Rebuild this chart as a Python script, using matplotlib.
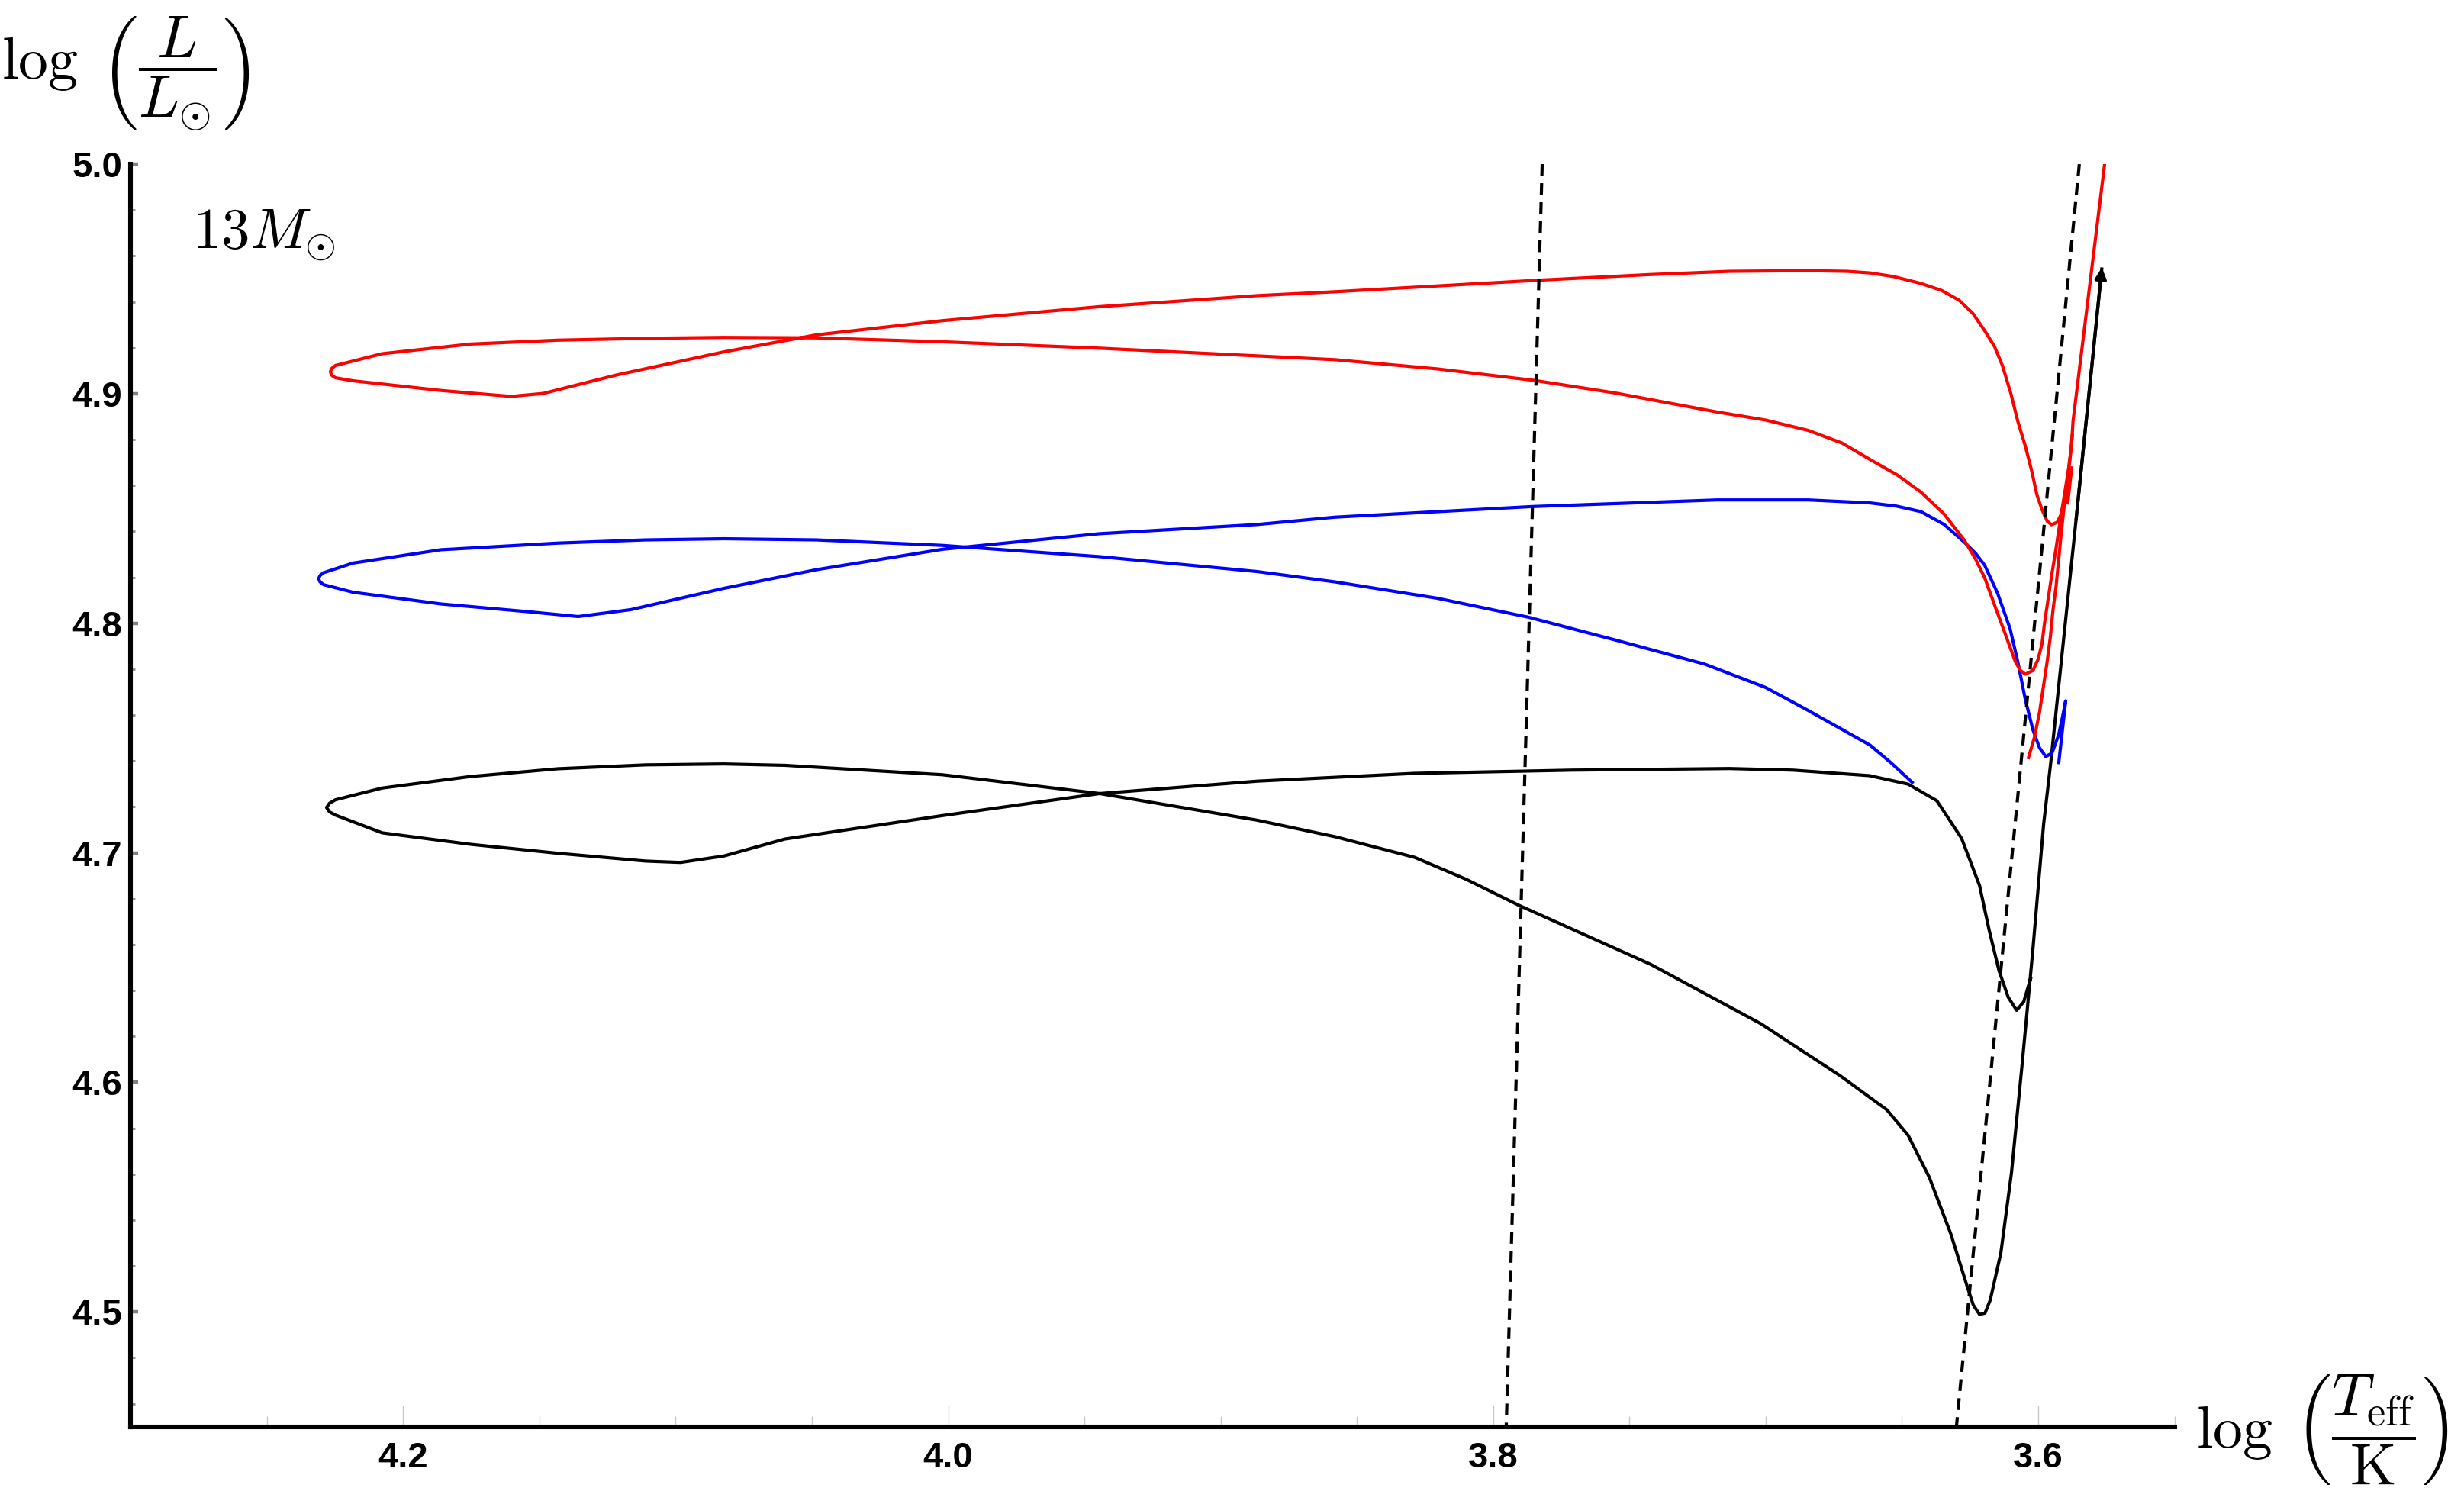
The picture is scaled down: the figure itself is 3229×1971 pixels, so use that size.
import matplotlib
matplotlib.use("Agg")
import matplotlib.pyplot as plt
from matplotlib.ticker import MultipleLocator, FormatStrFormatter

plt.rcParams["mathtext.fontset"] = "cm"

# black track (with arrow at the end)
black_x = [3.6026, 3.6053, 3.6079, 3.6110, 3.6144, 3.6180, 3.6215, 3.6281, 3.6372,
           3.6477, 3.6619, 3.6900, 3.7133, 3.7711, 3.8288, 3.8866, 3.9444, 4.0021,
           4.0599, 4.0823, 4.0982, 4.1111, 4.1433, 4.1754, 4.2077, 4.2248, 4.2270,
           4.2281, 4.2270, 4.2248, 4.2077, 4.1754, 4.1433, 4.1111, 4.0823, 4.0599,
           4.0021, 3.9444, 3.8866, 3.8580, 3.8288, 3.8100, 3.7907, 3.7422, 3.7017,
           3.6728, 3.6555, 3.6477, 3.6399, 3.6320, 3.6261, 3.6238, 3.6215, 3.6195,
           3.6176, 3.6137, 3.6098, 3.6059, 3.6020, 3.5980, 3.5954, 3.5861, 3.5766]
black_y = [4.6458, 4.6351, 4.6314, 4.6371, 4.6488, 4.6664, 4.6857, 4.7063, 4.7227,
           4.7299, 4.7336, 4.7360, 4.7367, 4.7360, 4.7346, 4.7312, 4.7258, 4.7162,
           4.7060, 4.6986, 4.6958, 4.6964, 4.6998, 4.7037, 4.7087, 4.7164, 4.7178,
           4.7197, 4.7216, 4.7231, 4.7282, 4.7332, 4.7366, 4.7383, 4.7387, 4.7381,
           4.7340, 4.7258, 4.7142, 4.7070, 4.6980, 4.6885, 4.6772, 4.6514, 4.6255,
           4.6030, 4.5880, 4.5769, 4.5585, 4.5338, 4.5113, 4.5030, 4.4989, 4.4995,
           4.5051, 4.5256, 4.5605, 4.6077, 4.6570, 4.7124, 4.7391, 4.8450, 4.9550]

# blue track
blue_x = [3.6458, 3.6540, 3.6617, 3.6844, 3.7000, 3.7224, 3.7552, 3.7870, 3.8206,
          3.8580, 3.8866, 3.9444, 4.0021, 4.0484, 4.0823, 4.1111, 4.1433, 4.1862,
          4.2184, 4.2292, 4.2305, 4.2310, 4.2305, 4.2292, 4.2184, 4.1862, 4.1540,
          4.1358, 4.1165, 4.0823, 4.0484, 4.0021, 3.9444, 3.8866, 3.8580, 3.7860,
          3.7178, 3.6844, 3.6617, 3.6520, 3.6430, 3.6345, 3.6271, 3.6230, 3.6196,
          3.6149, 3.6103, 3.6075, 3.6047, 3.6019, 3.5995, 3.5972, 3.5949, 3.5925,
          3.5911, 3.5899, 3.5925]
blue_y = [4.7302, 4.7392, 4.7469, 4.7620, 4.7720, 4.7822, 4.7927, 4.8026, 4.8109,
          4.8180, 4.8225, 4.8290, 4.8339, 4.8363, 4.8368, 4.8363, 4.8349, 4.8320,
          4.8262, 4.8220, 4.8208, 4.8194, 4.8180, 4.8168, 4.8135, 4.8084, 4.8050,
          4.8029, 4.8059, 4.8152, 4.8233, 4.8322, 4.8390, 4.8430, 4.8462, 4.8508,
          4.8537, 4.8537, 4.8524, 4.8510, 4.8486, 4.8430, 4.8353, 4.8305, 4.8252,
          4.8131, 4.7976, 4.7833, 4.7667, 4.7535, 4.7457, 4.7419, 4.7435, 4.7513,
          4.7590, 4.7662, 4.7386]

# red track
red_x = [3.5892, 3.5877, 3.5888, 3.5902, 3.5916, 3.5930, 3.5951, 3.5967, 3.5986,
         3.6005, 3.6023, 3.6047, 3.6075, 3.6100, 3.6131, 3.6160, 3.6196, 3.6240,
         3.6290, 3.6355, 3.6430, 3.6530, 3.6617, 3.6700, 3.6844, 3.7133, 3.7422,
         3.7837, 3.8580, 3.8866, 3.9444, 4.0021, 4.0484, 4.0823, 4.1218, 4.1486,
         4.1604, 4.1862, 4.2184, 4.2248, 4.2262, 4.2267, 4.2262, 4.2248, 4.2077,
         4.1754, 4.1433, 4.1111, 4.0823, 4.0484, 4.0021, 3.9444, 3.8580, 3.8206,
         3.7851, 3.7552, 3.7178, 3.7000, 3.6844, 3.6720, 3.6617, 3.6520, 3.6430,
         3.6345, 3.6271, 3.6230, 3.6196, 3.6159, 3.6121, 3.6084, 3.6065, 3.6047,
         3.6019, 3.6000, 3.5986, 3.5977, 3.5963, 3.5949, 3.5934, 3.5920, 3.5905,
         3.5890, 3.5878, 3.5872, 3.5752]
red_y = [4.8517, 4.8677, 4.8616, 4.8539, 4.8473, 4.8440, 4.8429, 4.8445, 4.8495,
         4.8561, 4.8660, 4.8771, 4.8881, 4.9000, 4.9122, 4.9205, 4.9274, 4.9350,
         4.9407, 4.9450, 4.9480, 4.9510, 4.9526, 4.9533, 4.9536, 4.9533, 4.9519,
         4.9494, 4.9444, 4.9427, 4.9379, 4.9318, 4.9256, 4.9182, 4.9081, 4.9001,
         4.8988, 4.9014, 4.9056, 4.9069, 4.9080, 4.9095, 4.9110, 4.9123, 4.9174,
         4.9216, 4.9233, 4.9241, 4.9245, 4.9243, 4.9226, 4.9198, 4.9148, 4.9108,
         4.9058, 4.9003, 4.8920, 4.8885, 4.8840, 4.8785, 4.8713, 4.8648, 4.8571,
         4.8475, 4.8362, 4.8280, 4.8197, 4.8076, 4.7954, 4.7833, 4.7794, 4.7778,
         4.7794, 4.7844, 4.7910, 4.7998, 4.8109, 4.8219, 4.8329, 4.8440, 4.8550,
         4.8660, 4.8771, 4.8881, 5.0040]

# short red branch rising on the right
red_b_x = [3.6037, 3.6014, 3.5995, 3.5981, 3.5967, 3.5955, 3.5946, 3.5934, 3.5925,
           3.5916, 3.5906, 3.5895, 3.5883, 3.5874]
red_b_y = [4.7408, 4.7502, 4.7612, 4.7722, 4.7833, 4.7943, 4.8053, 4.8164, 4.8274,
           4.8385, 4.8495, 4.8605, 4.8716, 4.8826]

# dashed boundary lines
dash1_x = [3.7820, 3.7952]
dash1_y = [5.00, 4.45]
dash2_x = [3.5849, 3.6300]
dash2_y = [5.00, 4.45]

fig = plt.figure(figsize=(16.15, 9.855), dpi=200)
ax = fig.add_axes([0.0530, 0.0514, 0.8292, 0.8395])

lw = 1.5
ax.plot(black_x, black_y, color="black", lw=lw, solid_capstyle="butt")
ax.plot(blue_x, blue_y, color="blue", lw=lw, solid_capstyle="butt")
ax.plot(red_x, red_y, color="red", lw=lw, solid_capstyle="butt")
ax.plot(red_b_x, red_b_y, color="red", lw=lw, solid_capstyle="butt")
ax.plot(dash1_x, dash1_y, color="black", lw=1.5, dashes=(3.7, 2.3))
ax.plot(dash2_x, dash2_y, color="black", lw=1.5, dashes=(3.7, 2.3))

ax.annotate("", xy=(black_x[-1], black_y[-1]), xytext=(black_x[-2], black_y[-2]),
            arrowprops=dict(arrowstyle="-|>", color="black", lw=lw,
                            mutation_scale=11, shrinkA=0, shrinkB=0))

ax.text(4.2775, 4.963, r"$13M_{\odot}$", fontsize=27, ha="left", va="baseline")

ax.set_xlim(4.30, 3.55)
ax.set_ylim(4.45, 5.0)

for side in ["top", "right"]:
    ax.spines[side].set_visible(False)
for side in ["left", "bottom"]:
    ax.spines[side].set_linewidth(2.2)
    ax.spines[side].set_color("black")

ax.xaxis.set_major_locator(MultipleLocator(0.2))
ax.xaxis.set_minor_locator(MultipleLocator(0.05))
ax.yaxis.set_major_locator(MultipleLocator(0.1))
ax.yaxis.set_minor_locator(MultipleLocator(0.02))
ax.xaxis.set_major_formatter(FormatStrFormatter("%.1f"))
ax.yaxis.set_major_formatter(FormatStrFormatter("%.1f"))

ax.tick_params(axis="x", which="major", direction="in", length=10, width=0.5,
               color="#c8c8c8", pad=7)
ax.tick_params(axis="x", which="minor", direction="in", length=5, width=0.5,
               color="#c8c8c8")
ax.tick_params(axis="y", which="major", direction="in", length=3.6, width=1.6,
               color="#808080", pad=4)
ax.tick_params(axis="y", which="minor", direction="in", length=2, width=1.0,
               color="#909090")

for lab in ax.get_xticklabels() + ax.get_yticklabels():
    lab.set_fontfamily("Liberation Sans")
    lab.set_fontweight("bold")
    lab.set_fontsize(17)

fig.text(0.0511, 0.9508, r"$\log\;\left(\dfrac{L}{L_{\odot}}\right)$",
         fontsize=28, ha="center", va="center")
fig.text(0.9421, 0.0492, r"$\log\;\left(\dfrac{T_{\mathrm{eff}}}{\mathrm{K}}\right)$",
         fontsize=28, ha="center", va="center")

fig.savefig("out.png", dpi=200)
plt.close(fig)
